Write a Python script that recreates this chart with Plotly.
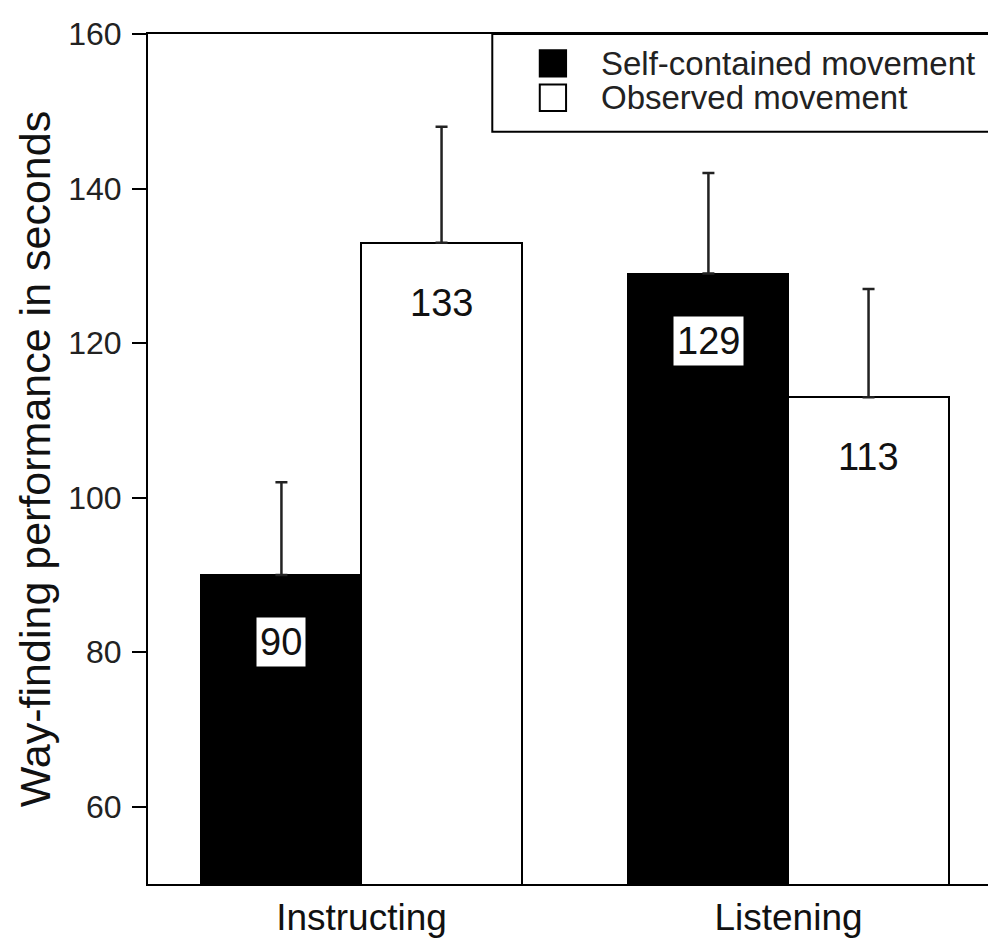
import plotly.graph_objects as go

groups = ["Instructing", "Listening"]
series_names = ["Self-contained movement", "Observed movement"]
self_vals = [90, 129]
obs_vals = [133, 113]
self_err = [12, 13]
obs_err = [15, 14]
y_ticks = [60, 80, 100, 120, 140, 160]

FONT = "Liberation Sans, Arial, sans-serif"
bar_w = 0.375
xi = list(range(len(groups)))
x_self = [i - bar_w / 2 for i in xi]
x_obs = [i + bar_w / 2 for i in xi]

fig = go.Figure()
fig.add_trace(go.Bar(
    x=x_self, y=self_vals, width=bar_w, name=series_names[0],
    marker=dict(color="black", line=dict(color="black", width=2)),
    error_y=dict(type="data", symmetric=False, array=self_err, arrayminus=[0] * len(self_err),
                 color="#222", thickness=2.5, width=6),
    showlegend=False,
))
fig.add_trace(go.Bar(
    x=x_obs, y=obs_vals, width=bar_w, name=series_names[1],
    marker=dict(color="white", line=dict(color="black", width=2)),
    error_y=dict(type="data", symmetric=False, array=obs_err, arrayminus=[0] * len(obs_err),
                 color="#222", thickness=2.5, width=6),
    showlegend=False,
))

# value labels
for xs, vs, bg, shift in [(x_self, self_vals, "white", -67), (x_obs, obs_vals, "rgba(0,0,0,0)", -60)]:
    for x, v in zip(xs, vs):
        fig.add_annotation(x=x, y=v, xref="x", yref="y", text=str(v), showarrow=False,
                           yanchor="middle", yshift=shift,
                           font=dict(family=FONT, size=38, color="#111"),
                           bgcolor=bg, borderpad=3)

# legend drawn in paper coordinates
fig.add_shape(type="rect", xref="paper", yref="paper", x0=0.406, x1=1.02, y0=0.885, y1=1.0,
              line=dict(color="black", width=2), fillcolor="white", layer="above")
leg_y = [0.9655, 0.925]
leg_fill = ["black", "white"]
for name, yy, fc in zip(series_names, leg_y, leg_fill):
    fig.add_shape(type="rect", xref="paper", yref="paper", x0=0.462, x1=0.493,
                  y0=yy - 0.0155, y1=yy + 0.0155, line=dict(color="black", width=2),
                  fillcolor=fc, layer="above")
    fig.add_annotation(x=0.532, y=yy, xref="paper", yref="paper", text=name, showarrow=False,
                       xanchor="left", yanchor="middle",
                       font=dict(family=FONT, size=33, color="#222"))

fig.update_layout(
    width=996, height=945,
    margin=dict(l=140, r=8, t=22, b=69),
    paper_bgcolor="white", plot_bgcolor="white",
    bargap=0, barmode="overlay",
    font=dict(family=FONT, color="#111"),
    showlegend=False,
)
fig.update_xaxes(
    range=[-0.5, 1.486], tickmode="array", tickvals=xi, ticktext=groups,
    showline=True, linecolor="black", linewidth=2, mirror=True,
    ticks="", showgrid=False, zeroline=False,
    tickfont=dict(family=FONT, size=37, color="#111"),
)
fig.update_yaxes(
    range=[50, 160], tickmode="array", tickvals=y_ticks,
    showline=True, linecolor="black", linewidth=2,
    ticks="outside", ticklen=14, tickwidth=2, tickcolor="black",
    ticklabelstandoff=4,
    showgrid=False, zeroline=False,
    tickfont=dict(family=FONT, size=32, color="#222"),
    title=dict(text="Way-finding performance in seconds", standoff=4,
               font=dict(family=FONT, size=43, color="#111")),
)

fig.write_html("out.html")
